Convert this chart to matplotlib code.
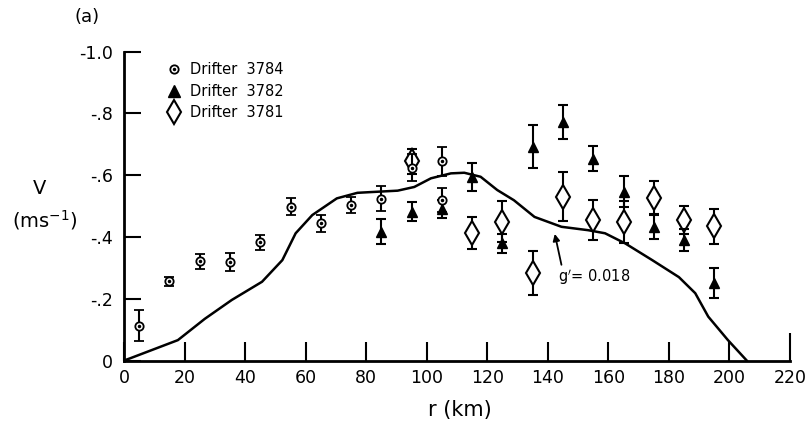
import numpy as np
import matplotlib.pyplot as plt
from matplotlib.lines import Line2D
from matplotlib.legend_handler import HandlerTuple

# -----------------------------
# Drifter speeds (m/s), negative = toward the axis direction plotted upward
# -----------------------------
r_3784 = [5, 15, 25, 35, 45, 55, 65, 75, 85, 95, 105, 105]
v_3784 = [-0.112, -0.257, -0.321, -0.319, -0.383, -0.498, -0.444, -0.503,
          -0.524, -0.625, -0.645, -0.52]
e_3784 = [0.05, 0.015, 0.025, 0.028, 0.025, 0.028, 0.028, 0.025,
          0.04, 0.045, 0.048, 0.04]

r_3782 = [85, 95, 105, 115, 125, 135, 145, 155, 165, 175, 185, 195]
v_3782 = [-0.417, -0.482, -0.49, -0.595, -0.379, -0.692, -0.773, -0.654,
          -0.546, -0.433, -0.39, -0.25]
e_3782 = [0.04, 0.03, 0.03, 0.045, 0.03, 0.07, 0.055, 0.04,
          0.05, 0.04, 0.035, 0.048]

r_3781 = [95, 115, 125, 135, 145, 155, 165, 175, 185, 195]
v_3781 = [-0.645, -0.413, -0.45, -0.283, -0.531, -0.455, -0.45, -0.525,
          -0.455, -0.434]
e_3781 = [0.04, 0.053, 0.065, 0.07, 0.08, 0.065, 0.068, 0.055, 0.045, 0.056]

# model profile for g' = 0.018
r_model = [0, 2, 17.8, 26.7, 35.6, 45.6, 52.3, 56.7, 62.2, 70.3, 77.1, 82.7,
           90.4, 95.9, 101.4, 108, 112.4, 117.8, 123.3, 128.8, 135.6, 144.5,
           153.3, 158.9, 165.6, 174.5, 183.3, 188.7, 193, 199.5, 205.7]
v_model = [0, -0.007, -0.066, -0.135, -0.196, -0.255, -0.325, -0.412, -0.471,
           -0.525, -0.543, -0.546, -0.55, -0.562, -0.59, -0.606, -0.608,
           -0.595, -0.552, -0.519, -0.465, -0.433, -0.422, -0.412, -0.379,
           -0.325, -0.27, -0.218, -0.142, -0.066, 0]

xticks = [0, 20, 40, 60, 80, 100, 120, 140, 160, 180, 200, 220]
yticks = [0, -0.2, -0.4, -0.6, -0.8, -1.0]
ytick_labels = ['0', '-.2', '-.4', '-.6', '-.8', '-1.0']

plt.rcParams['font.family'] = ['DejaVu Sans']

fig = plt.figure(figsize=(8.07, 4.25), dpi=100)
ax = fig.add_axes([124 / 807, 64.5 / 425, 666 / 807, 308.8 / 425])

# model curve
ax.plot(r_model, v_model, color='black', lw=1.8, zorder=2,
        solid_joinstyle='round')

eb = dict(ecolor='black', elinewidth=1.5, capsize=3.5, capthick=1.5,
          linestyle='none', clip_on=False)

# Drifter 3781 - open diamonds
ax.errorbar(r_3781, v_3781, yerr=e_3781, fmt='d', ms=12, mfc='white',
            mec='black', mew=1.5, zorder=3, **eb)
# Drifter 3782 - filled triangles
ax.errorbar(r_3782, v_3782, yerr=e_3782, fmt='^', ms=7, mfc='black',
            mec='black', zorder=4, **eb)
# Drifter 3784 - circle with centre dot
ax.errorbar(r_3784, v_3784, yerr=e_3784, fmt='o', ms=6, mfc='white',
            mec='black', mew=1.3, zorder=5, **eb)
ax.plot(r_3784, v_3784, linestyle='none', marker='o', ms=1.5,
        color='black', zorder=6)

# axes styling
ax.set_xlim(0, 220)
ax.set_ylim(0, -1.0)
for side in ['top', 'right']:
    ax.spines[side].set_visible(False)
for side in ['left', 'bottom']:
    ax.spines[side].set_linewidth(2)
ax.set_xticks(xticks)
ax.set_yticks(yticks)
ax.set_yticklabels(ytick_labels)
ax.tick_params(axis='x', direction='in', length=14, width=1.5, pad=6,
               labelsize=12.5)
ax.tick_params(axis='y', direction='in', length=12, width=1.5, pad=8,
               labelsize=12.5)
ax.xaxis.get_major_ticks()[-1].tick1line.set_markersize(20)

# legend
h_circle = (Line2D([], [], linestyle='none', marker='o', ms=6, mfc='white',
                   mec='black', mew=1.3),
            Line2D([], [], linestyle='none', marker='o', ms=1.5, color='black'))
h_tri = Line2D([], [], linestyle='none', marker='^', ms=9, color='black')
h_dia = Line2D([], [], linestyle='none', marker='d', ms=12, mfc='white',
               mec='black', mew=1.5)
ax.legend([h_circle, h_tri, h_dia],
          ['Drifter  3784', 'Drifter  3782', 'Drifter  3781'],
          handler_map={tuple: HandlerTuple(ndivide=1)},
          loc='upper left', bbox_to_anchor=(0.055, 0.985), frameon=False,
          fontsize=10.5, handlelength=1.0, handletextpad=0.6,
          labelspacing=0.45, borderaxespad=0)

# annotation for the model curve
ax.annotate('', xy=(142.3, -0.41), xytext=(144.5, -0.31),
            arrowprops=dict(arrowstyle='-|>', color='black', lw=1.3,
                            mutation_scale=10, shrinkA=0, shrinkB=0))
ax.text(143.5, -0.27, "g$'$= 0.018", fontsize=10.5, ha='left', va='center')

# labels
fig.text(87 / 807, 1 - 17 / 425, '(a)', fontsize=13, ha='center', va='center')
fig.text(40 / 807, 1 - 188 / 425, 'V', fontsize=14, ha='center', va='center')
fig.text(45 / 807, 1 - 220 / 425, '(ms$^{-1}$)', fontsize=14, ha='center',
         va='center')
fig.text(460 / 807, 1 - 410 / 425, 'r (km)', fontsize=15, ha='center',
         va='center')

fig.savefig('out.png', dpi=100)
